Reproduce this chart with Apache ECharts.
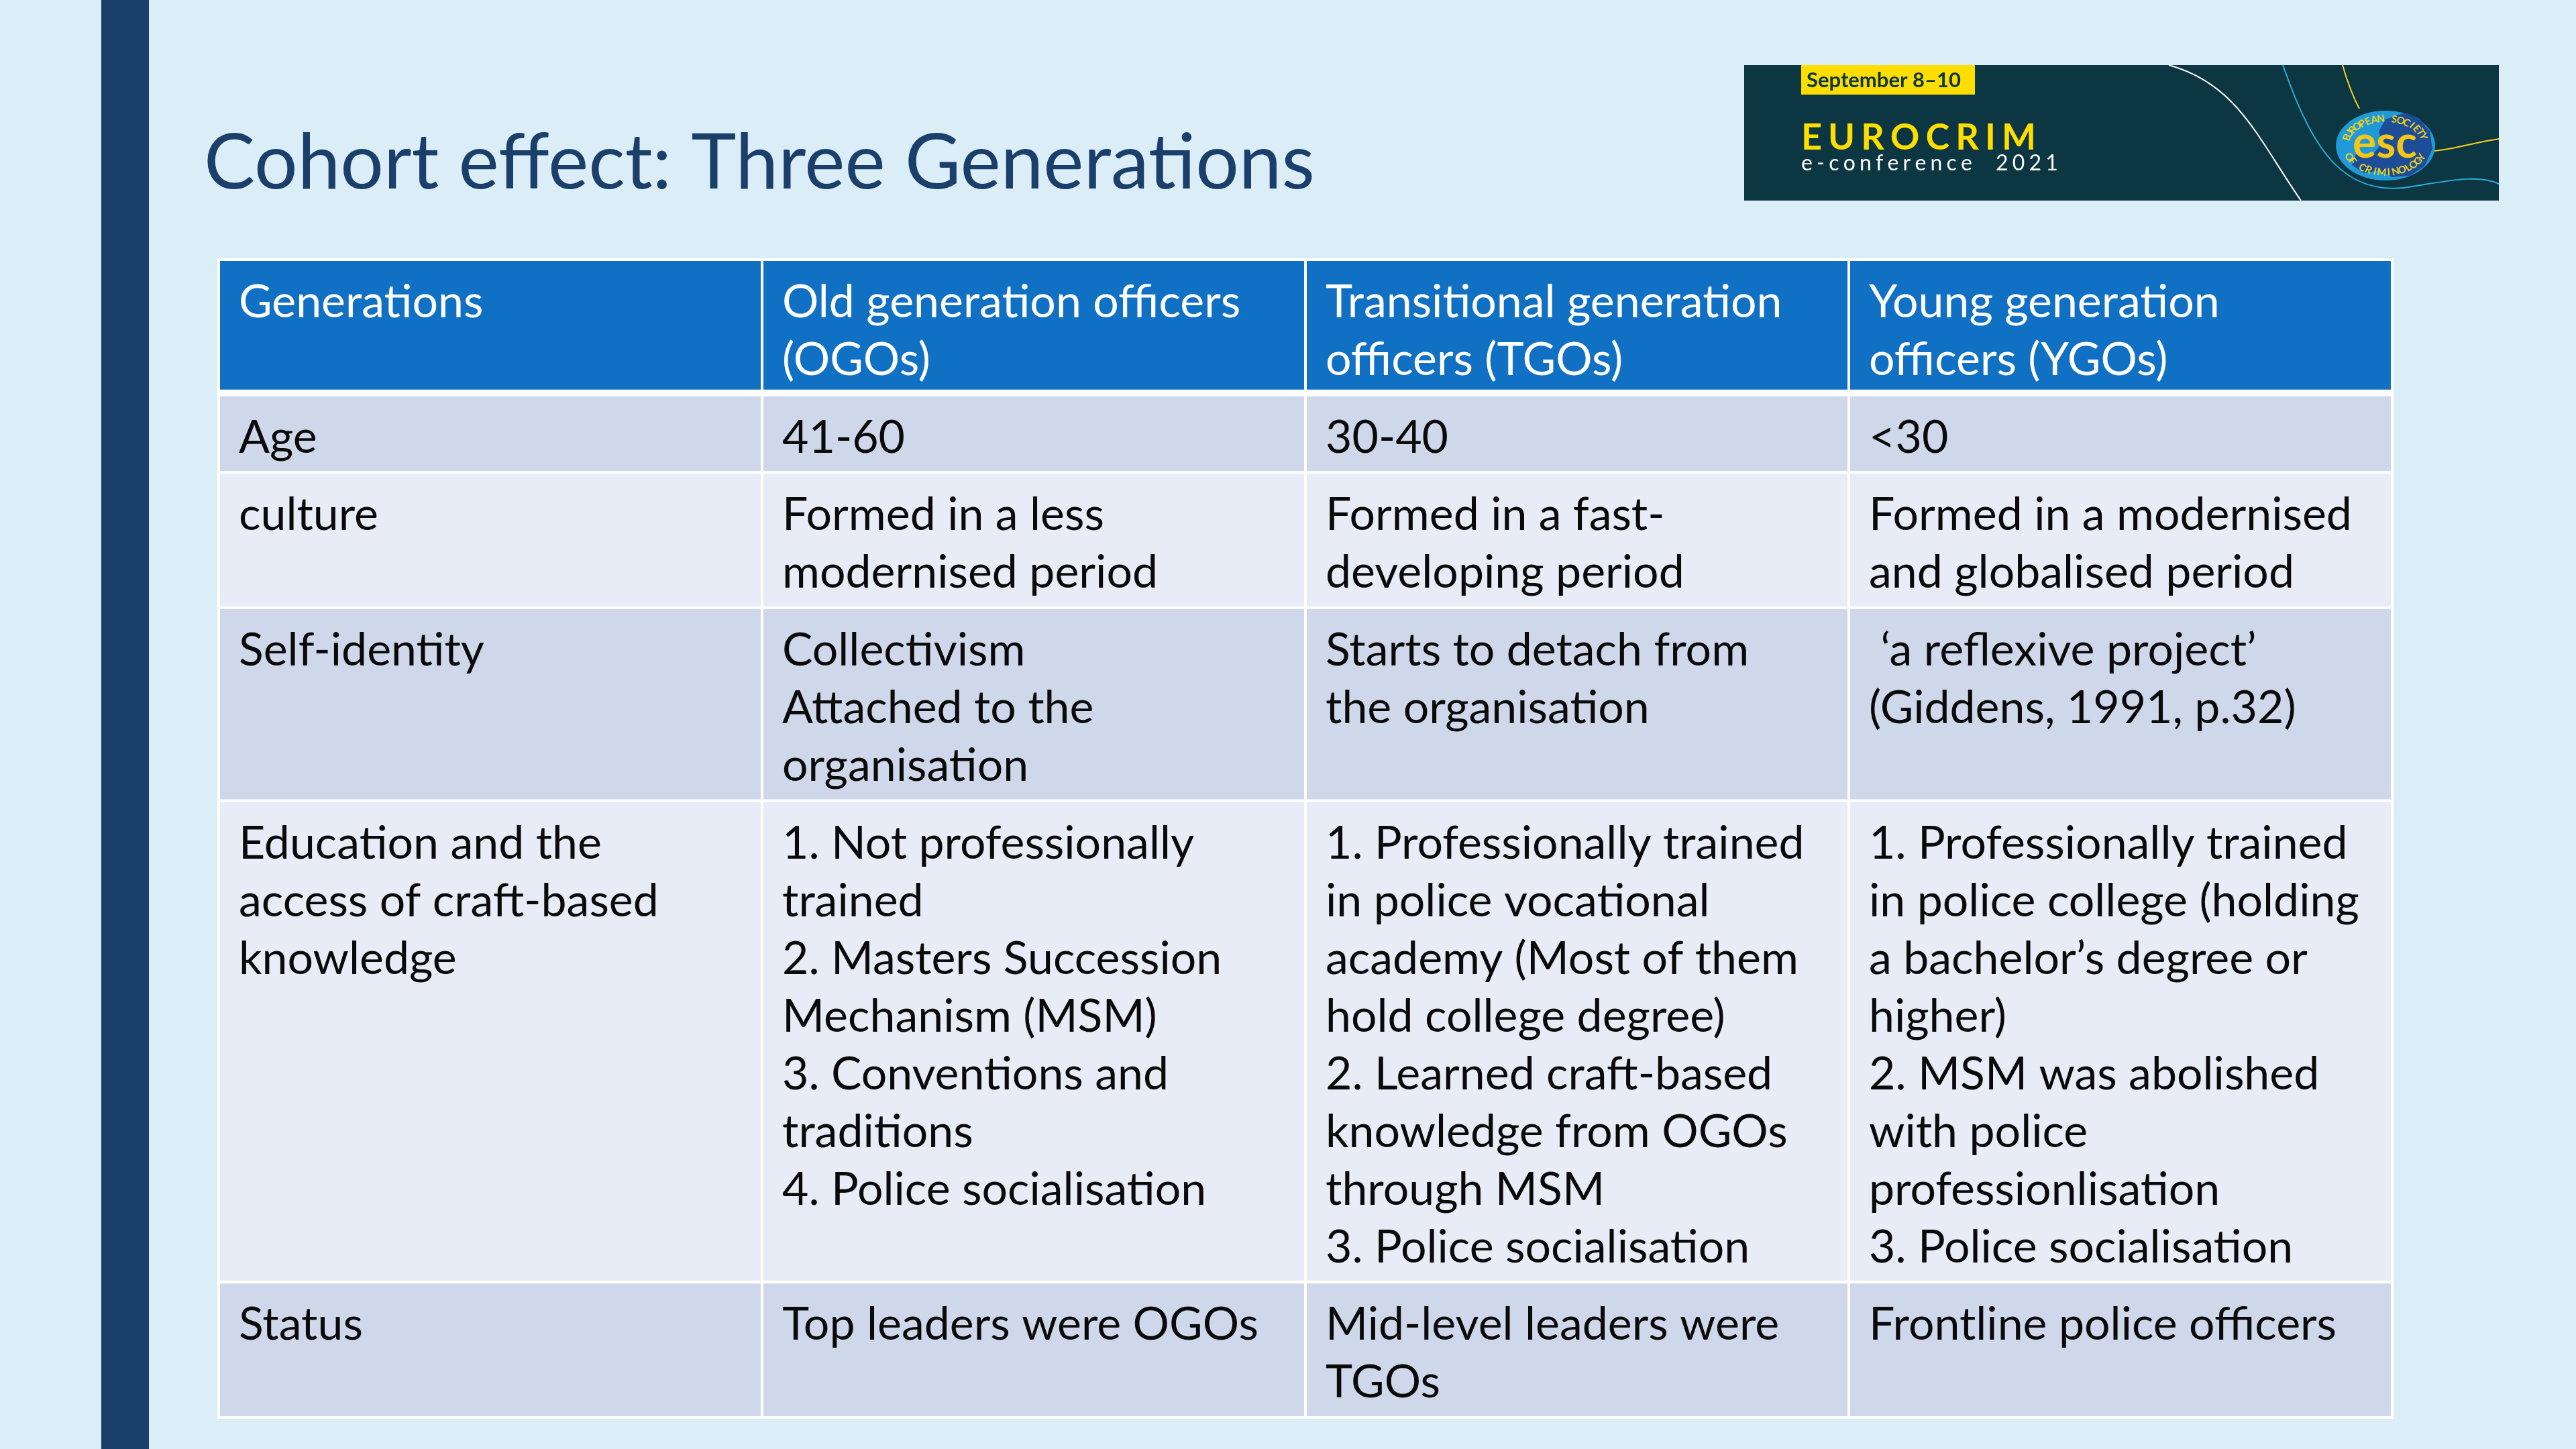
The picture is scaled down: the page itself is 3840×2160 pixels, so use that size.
<!DOCTYPE html>
<html>
<head>
<meta charset="utf-8">
<title>Cohort effect: Three Generations</title>
<script src="https://cdn.jsdelivr.net/npm/echarts@6/dist/echarts.min.js"></script>
<style>
html,body{margin:0;padding:0;background:#dbeef8;}
#main{width:3840px;height:2160px;}
</style>
</head>
<body>
<div id="main"></div>
<script>
// slide text
var titleText = 'Cohort effect: Three Generations';
var columnHeads = ['Generations', 'Old generation officers\n(OGOs)', 'Transitional generation\nofficers (TGOs)', 'Young generation\nofficers (YGOs)'];
var rowLabels = ['Age', 'culture', 'Self-identity', 'Education and the\naccess of craft-based\nknowledge', 'Status'];
var ogoCells = [
	'41-60',
	'Formed in a less\nmodernised period',
	'Collectivism\nAttached to the\norganisation',
	'1. Not professionally\ntrained\n2. Masters Succession\nMechanism (MSM)\n3. Conventions and\ntraditions\n4. Police socialisation',
	'Top leaders were OGOs'
];
var tgoCells = [
	'30-40',
	'Formed in a fast-\ndeveloping period',
	'Starts to detach from\nthe organisation',
	'1. Professionally trained\nin police vocational\nacademy (Most of them\nhold college degree)\n2. Learned craft-based\nknowledge from OGOs\nthrough MSM\n3. Police socialisation',
	'Mid-level leaders were\nTGOs'
];
var ygoCells = [
	'<30',
	'Formed in a modernised\nand globalised period',
	' \u2018a reflexive project\u2019\n(Giddens, 1991, p.32)',
	'1. Professionally trained\nin police college (holding\na bachelor\u2019s degree or\nhigher)\n2. MSM was abolished\nwith police\nprofessionlisation\n3. Police socialisation',
	'Frontline police officers'
];

var headColor = '#1070c4';
var darkRow = '#cfd8ea';
var lightRow = '#e8ecf6';
var navy = '#1a3f6a';
var bodyFont = 'Lato';

// build table rows, row spans in "line" units
var rows = [columnHeads];
for (var i = 0; i < rowLabels.length; i++) {
	rows.push([rowLabels[i], ogoCells[i], tgoCells[i], ygoCells[i]]);
}
var pad = 0.345;
var rowTop = [], rowSpan = [], total = 0;
for (var r = 0; r < rows.length; r++) {
	var n = 1;
	for (var c = 0; c < 4; c++) {
		n = Math.max(n, rows[r][c].split('\n').length);
	}
	rowTop[r] = total;
	rowSpan[r] = n + pad;
	total += rowSpan[r];
}
var cellData = [];
for (var r = 0; r < rows.length; r++) {
	for (var c = 0; c < 4; c++) {
		cellData.push([c, r]);
	}
}

function renderCell(params, api) {
	var c = api.value(0), r = api.value(1);
	var p0 = api.coord([c, rowTop[r]]);
	var p1 = api.coord([c + 1, rowTop[r] + rowSpan[r]]);
	var unit = api.size([0, 1])[1];
	var fill = r === 0 ? headColor : (r % 2 ? darkRow : lightRow);
	var kids = [{
		type: 'rect',
		shape: {x: p0[0], y: p0[1], width: p1[0] - p0[0], height: p1[1] - p0[1]},
		style: {fill: fill, stroke: '#ffffff', lineWidth: 4}
	}];
	if (r === 0) {
		kids.push({
			type: 'rect',
			shape: {x: p0[0], y: p1[1] - 8, width: p1[0] - p0[0], height: 12},
			style: {fill: '#ffffff'}
		});
	}
	kids.push({
		type: 'text',
		x: p0[0] + 30,
		y: p0[1] + 21,
		style: {
			text: rows[r][c],
			fill: r === 0 ? '#ffffff' : '#0a0a0a',
			fontSize: 68,
			fontFamily: bodyFont,
			lineHeight: unit,
			align: 'left',
			verticalAlign: 'top'
		}
	});
	return {type: 'group', children: kids};
}

// curved text around the esc badge
function arcText(str, cx, cy, rx, ry, a0, a1, top) {
	var out = [];
	for (var k = 0; k < str.length; k++) {
		var a = a0 + (a1 - a0) * k / (str.length - 1);
		out.push({
			type: 'text',
			x: cx + rx * Math.cos(a),
			y: cy + ry * Math.sin(a),
			rotation: top ? -(a + Math.PI / 2) : -(a - Math.PI / 2),
			style: {text: str[k], fill: '#f3d21b', fontSize: 15, fontWeight: 'bold', fontFamily: bodyFont, align: 'center', verticalAlign: 'middle'}
		});
	}
	return out;
}

// letter-spaced text, one element per character
var measureCtx = document.createElement('canvas').getContext('2d');
function spacedText(str, x, y, spacing, size, weight, color) {
	var out = [];
	measureCtx.font = weight + ' ' + size + 'px ' + bodyFont;
	for (var k = 0; k < str.length; k++) {
		out.push({
			type: 'text', x: x, y: y,
			style: {text: str[k], fill: color, fontSize: size, fontWeight: weight, fontFamily: bodyFont, verticalAlign: 'middle'}
		});
		x += measureCtx.measureText(str[k]).width + spacing;
	}
	return out;
}

var logo = [
	{type: 'rect', shape: {x: 2600, y: 97, width: 1125, height: 202}, style: {fill: '#0c3742'}},
	{type: 'bezierCurve', shape: {x1: 3233, y1: 97, cpx1: 3335, cpy1: 125, cpx2: 3365, cpy2: 205, x2: 3430, y2: 299}, style: {stroke: '#ffffff', lineWidth: 2, fill: null}},
	{type: 'bezierCurve', shape: {x1: 3403, y1: 97, cpx1: 3440, cpy1: 200, cpx2: 3480, cpy2: 290, x2: 3583, y2: 280}, style: {stroke: '#27aee0', lineWidth: 2, fill: null}},
	{type: 'bezierCurve', shape: {x1: 3583, y1: 280, cpx1: 3640, cpy1: 272, cpx2: 3690, cpy2: 258, x2: 3725, y2: 274}, style: {stroke: '#27aee0', lineWidth: 2, fill: null}},
	{type: 'bezierCurve', shape: {x1: 3492, y1: 97, cpx1: 3500, cpy1: 125, cpx2: 3508, cpy2: 145, x2: 3517, y2: 162}, style: {stroke: '#f3d21b', lineWidth: 2, fill: null}},
	{type: 'bezierCurve', shape: {x1: 3628, y1: 225, cpx1: 3660, cpy1: 222, cpx2: 3690, cpy2: 212, x2: 3725, y2: 207}, style: {stroke: '#f3d21b', lineWidth: 2, fill: null}},
	{type: 'ellipse', shape: {cx: 3556, cy: 217, rx: 74, ry: 52}, style: {fill: '#1f9ad8'}},
	{type: 'polygon', shape: {points: [[3556, 178], [3585, 168], [3606, 176], [3622, 196], [3626, 222], [3614, 248], [3592, 262], [3566, 264], [3546, 254], [3524, 258], [3506, 246], [3512, 230], [3536, 232], [3550, 214], [3546, 196]]}, style: {fill: '#1d4d96'}},
	{type: 'text', x: 3555, y: 214, style: {text: 'esc', fill: '#f5c518', fontSize: 66, fontWeight: 'bold', fontFamily: bodyFont, align: 'center', verticalAlign: 'middle'}},
	{type: 'rect', shape: {x: 2685, y: 97, width: 259, height: 44}, style: {fill: '#fedd00'}},
	{type: 'text', x: 2693, y: 120, style: {text: 'September 8\u201310', fill: '#0c3742', fontSize: 31, fontWeight: 'bold', fontFamily: bodyFont, verticalAlign: 'middle'}}
].concat(spacedText('EUROCRIM', 2685, 206, 9, 54, 'bold', '#fedd00'))
 .concat(spacedText('e-conference  2021', 2685, 244, 6.2, 32, 'normal', '#ffffff'))
 .concat(arcText('EUROPEAN SOCIETY', 3556, 217, 60, 40, -2.85, -0.35, true))
 .concat(arcText('OF CRIMINOLOGY', 3556, 217, 60, 40, 2.7, 0.45, false));

var chart = echarts.init(document.getElementById('main'));
var option = {
	backgroundColor: '#dbeef8',
	animation: false,
	grid: {left: 326, right: 274, top: 387, bottom: 47},
	xAxis: {type: 'value', min: 0, max: 4, show: false},
	yAxis: {type: 'value', min: 0, max: total, inverse: true, show: false},
	graphic: [
		{type: 'rect', shape: {x: 151, y: 0, width: 71, height: 2160}, style: {fill: navy}},
		{type: 'text', x: 304, y: 244, style: {text: titleText, fill: navy, fontSize: 114, fontFamily: bodyFont, verticalAlign: 'middle'}}
	].concat(logo),
	series: [{
		type: 'custom',
		renderItem: renderCell,
		data: cellData,
		silent: true
	}]
};
chart.setOption(option);
</script>
</body>
</html>
